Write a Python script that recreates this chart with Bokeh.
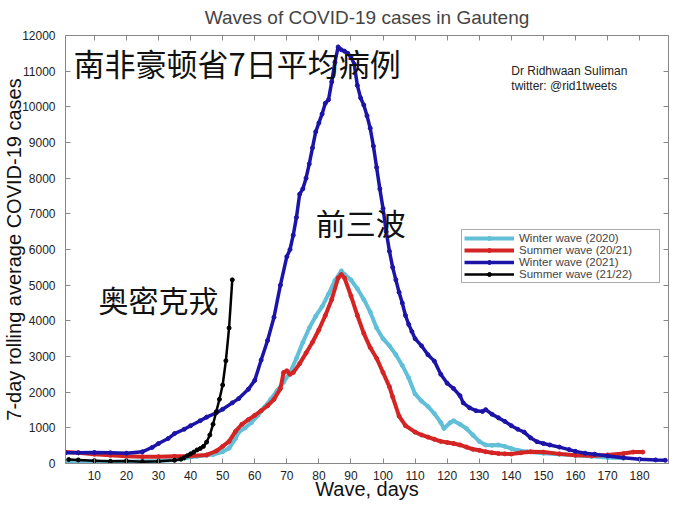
from bokeh.plotting import figure
from bokeh.models import (Range1d, LinearAxis, SingleIntervalTicker, Label, Legend, LegendItem)
from bokeh.embed import file_html
from bokeh.resources import INLINE

# ---------------- data ----------------
winter2020_days = [1, 5, 10, 15, 20, 25, 30, 35, 38, 42, 45, 47, 50, 52, 54, 55, 57, 59, 61, 63, 65, 67, 69,
                   71, 73, 75, 77, 79, 81, 83, 85, 87, 88, 90, 92, 94, 96, 98, 100, 102, 104, 106, 108, 110,
                   112, 114, 116, 118, 119, 121, 122, 124, 126, 128, 130, 132, 134, 136, 138, 140, 142, 145,
                   150, 155, 160, 165, 170, 175]
winter2020_cases = [30, 40, 40, 50, 50, 60, 70, 100, 150, 200, 230, 250, 330, 430, 700, 880, 1000, 1150, 1350,
                    1580, 1800, 2050, 2280, 2550, 2950, 3400, 3800, 4130, 4400, 4750, 5130, 5400, 5300, 5150,
                    4900, 4600, 4250, 3800, 3500, 3300, 3050, 2750, 2400, 1950, 1750, 1600, 1400, 1150, 980,
                    1150, 1200, 1100, 980, 800, 620, 520, 510, 520, 480, 420, 370, 330, 290, 260, 230, 200,
                    170, 150]

summer2021_days = [1, 5, 10, 15, 20, 25, 30, 35, 40, 45, 48, 50, 52, 54, 56, 58, 60, 62, 64, 66, 68, 69, 70,
                   71, 72, 74, 76, 78, 80, 82, 84, 86, 87, 88, 90, 92, 94, 96, 98, 100, 102, 103, 105, 107,
                   110, 112, 114, 116, 118, 120, 122, 124, 126, 128, 130, 132, 134, 136, 138, 140, 143, 146,
                   150, 155, 160, 165, 170, 175, 178, 181]
summer2021_cases = [320, 300, 260, 230, 200, 190, 190, 200, 210, 240, 350, 480, 620, 900, 1100, 1230, 1350,
                    1480, 1620, 1800, 2100, 2550, 2600, 2500, 2550, 2800, 3100, 3400, 3750, 4150, 4600, 5200,
                    5300, 5200, 4700, 4150, 3650, 3250, 2950, 2550, 2150, 1870, 1330, 1060, 880, 800, 740,
                    680, 620, 590, 560, 520, 460, 400, 370, 330, 300, 280, 270, 265, 300, 330, 320, 270, 230,
                    220, 240, 280, 320, 320]

winter2021_days = [1, 5, 10, 15, 20, 25, 28, 30, 33, 35, 38, 40, 43, 45, 48, 50, 53, 55, 58, 60, 62, 64, 66,
                   68, 70, 71, 72, 73, 74, 75, 76, 77, 78, 79, 80, 81, 82, 83, 84, 85, 86, 87, 88, 89, 90,
                   91, 92, 93, 94, 95, 96, 97, 98, 99, 100, 101, 102, 103, 104, 105, 106, 107, 108, 109, 110,
                   112, 114, 116, 118, 120, 122, 124, 125, 127, 129, 131, 132, 134, 136, 138, 140, 142, 144,
                   146, 148, 150, 152, 155, 158, 160, 163, 166, 170, 175, 180, 185, 188]
winter2021_cases = [300, 300, 310, 300, 290, 330, 450, 560, 700, 840, 960, 1060, 1200, 1300, 1420, 1520, 1700,
                    1820, 2080, 2330, 2900, 3450, 4100, 5000, 5800, 6000, 6400, 6900, 7550, 7700, 8000, 8400,
                    8850, 9300, 9550, 9800, 10100, 10200, 10700, 11250, 11680, 11600, 11560, 11500, 11400,
                    11200, 10600, 10250, 10050, 9750, 9400, 8900, 8300, 7700, 7150, 6500, 5950, 5500, 5150,
                    4800, 4500, 4150, 3900, 3700, 3500, 3300, 3050, 2870, 2500, 2250, 2100, 1900, 1700, 1560,
                    1480, 1460, 1510, 1380, 1280, 1180, 1060, 960, 880, 720, 610, 560, 520, 460, 390, 340, 290,
                    260, 210, 160, 120, 100, 90]

summer2122_days = [2, 5, 10, 15, 20, 25, 30, 35, 37, 38, 39, 40, 41, 42, 43, 44, 45, 46, 47, 48, 49, 50, 51,
                   52, 53]
summer2122_cases = [110, 100, 80, 60, 70, 50, 60, 90, 120, 160, 220, 270, 320, 380, 420, 480, 600, 800, 1100,
                    1450, 1800, 2200, 2880, 3800, 5150]

series_names = ["Winter wave (2020)", "Summer wave (20/21)", "Winter wave (2021)", "Summer wave (21/22)"]
series_colors = ["#62bfd8", "#d42424", "#1c14a8", "#000000"]

x_ticks_interval = 10
y_ticks_interval = 1000

title_text = "Waves of COVID-19 cases in Gauteng"
x_label = "Wave, days"
y_label = "7-day rolling average COVID-19 cases"
note_region = "南非豪顿省7日平均病例"
note_prev = "前三波"
note_omicron = "奥密克戎"
credit_1 = "Dr Ridhwaan Suliman"
credit_2 = "twitter: @rid1tweets"

# ---------------- figure ----------------
FONT = "Liberation Sans"
CJK = "Noto Sans CJK SC"

p = figure(width=674, height=502, output_backend="svg", toolbar_location=None,
           x_range=Range1d(1, 189), y_range=Range1d(0, 12000),
           min_border_left=0, min_border_right=6, min_border_top=0, min_border_bottom=0)
p.background_fill_color = "white"
p.border_fill_color = "white"
p.outline_line_color = "#888888"
p.outline_line_width = 1
p.xgrid.visible = False
p.ygrid.visible = False

p.title.text = title_text
p.title.text_font = FONT
p.title.text_font_size = "19px"
p.title.text_font_style = "normal"
p.title.align = "center"
p.title.standoff = 8

for ax in [p.xaxis[0], p.yaxis[0]]:
    ax.axis_line_color = "#888888"
    ax.major_tick_in = 5
    ax.major_tick_out = 0
    ax.minor_tick_line_color = None
    ax.major_tick_line_color = "#888888"
    ax.major_label_text_font = FONT
    ax.major_label_text_font_size = "12px"
    ax.major_label_text_color = "#222222"
    ax.axis_label_text_font = FONT
    ax.axis_label_text_font_style = "normal"
    ax.axis_label_text_color = "#111111"

p.xaxis[0].ticker = SingleIntervalTicker(interval=x_ticks_interval)
p.yaxis[0].ticker = SingleIntervalTicker(interval=y_ticks_interval)
p.xaxis[0].major_label_standoff = 3
p.yaxis[0].major_label_standoff = 6
p.yaxis[0].axis_label = y_label
p.yaxis[0].axis_label_text_font_size = "20px"
p.yaxis[0].axis_label_standoff = -6
p.xaxis[0].axis_label = x_label
p.xaxis[0].axis_label_text_font_size = "20px"
p.xaxis[0].axis_label_standoff = -5

# mirrored ticks on top and right (no labels)
top_ax = LinearAxis(ticker=SingleIntervalTicker(interval=x_ticks_interval))
right_ax = LinearAxis(ticker=SingleIntervalTicker(interval=y_ticks_interval))
for ax in [top_ax, right_ax]:
    ax.axis_line_color = None
    ax.major_tick_in = 5
    ax.major_tick_out = 0
    ax.minor_tick_line_color = None
    ax.major_tick_line_color = "#888888"
    ax.major_label_text_color = None
    ax.major_label_standoff = 0
p.add_layout(top_ax, "above")
p.add_layout(right_ax, "right")

# series
all_days = [winter2020_days, summer2021_days, winter2021_days, summer2122_days]
all_cases = [winter2020_cases, summer2021_cases, winter2021_cases, summer2122_cases]
widths = [4, 4, 3.5, 2.5]
items = []
for d, c, name, col, w in zip(all_days, all_cases, series_names, series_colors, widths):
    r1 = p.line(d, c, line_color=col, line_width=w)
    r2 = p.scatter(d, c, size=4, fill_color=col, line_color=col)
    items.append(LegendItem(label=name, renderers=[r1, r2]))

legend = Legend(items=items, location=(396, 180))
legend.label_text_font = FONT
legend.label_text_font_size = "11.5px"
legend.label_height = 10
legend.glyph_height = 10
legend.glyph_width = 50
legend.label_width = 138
legend.spacing = 0
legend.padding = 2
legend.margin = 0
legend.border_line_color = "#555555"
legend.border_line_width = 1
legend.background_fill_alpha = 1
p.add_layout(legend, "center")

# annotations
p.add_layout(Label(x=3.5, y=11230, text=note_region, text_font=CJK, text_font_size="31px",
                   text_baseline="middle", text_color="#111111"))
p.add_layout(Label(x=79, y=6780, text=note_prev, text_font=CJK, text_font_size="30px",
                   text_baseline="middle", text_color="#111111"))
p.add_layout(Label(x=11.3, y=4600, text=note_omicron, text_font=CJK, text_font_size="30px",
                   text_baseline="middle", text_color="#111111"))
p.add_layout(Label(x=140, y=11000, text=credit_1, text_font=FONT, text_font_size="12px",
                   text_baseline="middle", text_color="#222222"))
p.add_layout(Label(x=140, y=10580, text=credit_2, text_font=FONT, text_font_size="12px",
                   text_baseline="middle", text_color="#222222"))

open("out.html", "w").write(file_html(p, INLINE))
